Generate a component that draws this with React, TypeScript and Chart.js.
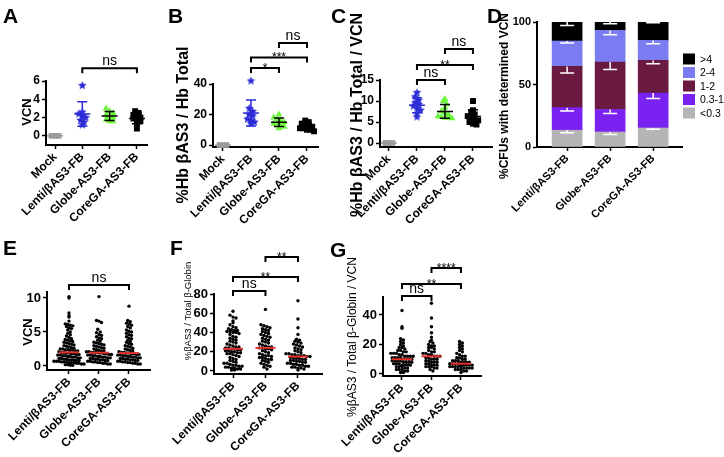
import React, { useEffect, useRef } from 'react';
import { Chart, registerables } from 'chart.js';
Chart.register(...registerables);

const W = 724;
const H = 457;
const FONT = '"Liberation Sans", Arial, Helvetica, sans-serif';

// ---------- categories ----------
const CATS4 = ['Mock', 'Lenti/βAS3-FB', 'Globe-AS3-FB', 'CoreGA-AS3-FB'];
const CATS3 = ['Lenti/βAS3-FB', 'Globe-AS3-FB', 'CoreGA-AS3-FB'];

// ---------- panel A : VCN ----------
const A_MOCK = [0, 0, 0];
const A_LENTI = [5.5, 2.6, 2.4, 2.2, 2.0, 1.7, 1.5, 1.2];
const A_GLOBE = [3.0, 2.7, 2.5, 2.3, 2.1, 2.0, 1.8, 1.6, 1.6];
const A_CORE = [2.7, 2.5, 2.3, 2.1, 2.0, 1.9, 1.8, 1.6, 1.3, 0.8];
const A_TICKS = [0, 2, 4, 6];

// ---------- panel B : %Hb bAS3 / Hb total ----------
const B_MOCK = [0, 0, 0];
const B_LENTI = [42, 24, 22, 20, 19, 17, 16, 15, 14];
const B_GLOBE = [20, 18, 17, 16, 15, 14, 14, 13, 12, 11];
const B_CORE = [16, 15, 14, 13, 12, 12, 11, 11, 10, 10, 9];
const B_TICKS = [0, 10, 20, 30, 40];

// ---------- panel C : %Hb bAS3 / Hb total / VCN ----------
const C_MOCK = [0, 0, 0];
const C_LENTI = [12, 11, 10.2, 9.6, 9.2, 8.8, 8.3, 7.8, 7, 6.2];
const C_GLOBE = [10.5, 10, 9.2, 8.4, 7.6, 7.2, 6.8, 6.4, 6.2, 6.0, 6.0, 5.9];
const C_CORE = [10, 7.8, 7.2, 6.8, 6.4, 6.0, 5.6, 5.4, 5.0, 4.6, 4.4];
const C_TICKS = [0, 5, 10, 15];

// ---------- panel D : % CFUs by VCN class (Lenti, Globe, CoreGA) ----------
const D_LT03 = [13.4, 12, 15.2];
const D_03_1 = [18.1, 18, 28];
const D_1_2 = [33, 38, 26.1];
const D_2_4 = [20.3, 25.3, 16];
const D_GT4 = [15.2, 6.7, 14.7];
const D_ERR_LT03 = [1.9, 2, 1];
const D_ERR_03_1 = [2.7, 3.2, 4.3];
const D_ERR_1_2 = [5.3, 5.9, 2.7];
const D_ERR_2_4 = [1.6, 3.5, 2.7];
const D_ERR_GT4 = [2.7, 1.3, 0.5];
const D_TICKS = [0, 50, 100];

// ---------- panel E : VCN per colony ----------
const E_LENTI = [10.2, 10.0, 7.8, 7.4, 7.2, 6.6, 6.2, 6.1, 6.0, 5.9, 5.8, 5.6, 5.5, 5.3, 5.0, 4.8, 4.6, 4.4, 4.2, 4.0, 3.9, 3.8, 3.7, 3.6, 3.5, 3.4, 3.3, 3.2, 3.1, 3.0, 2.9, 2.8, 2.7, 2.6, 2.5, 2.5, 2.4, 2.4, 2.3, 2.3, 2.2, 2.2, 2.1, 2.0, 2.0, 1.9, 1.9, 1.8, 1.8, 1.7, 1.7, 1.6, 1.6, 1.5, 1.5, 1.4, 1.4, 1.3, 1.3, 1.2, 1.2, 1.1, 1.1, 1.0, 1.0, 0.9, 0.9, 0.8, 0.8, 0.8, 0.7, 0.7, 0.7, 0.6, 0.6, 0.6, 0.5, 0.5, 0.5, 0.4, 0.4, 0.3, 0.3, 0.2, 0.2, 0.1, 0.1];
const E_GLOBE = [10.2, 6.7, 6.6, 6.4, 5.4, 5.0, 4.9, 4.6, 4.5, 4.3, 4.1, 4.0, 3.8, 3.7, 3.5, 3.4, 3.3, 3.2, 3.1, 3.0, 2.9, 2.8, 2.7, 2.6, 2.5, 2.4, 2.3, 2.2, 2.2, 2.1, 2.1, 2.0, 2.0, 2.0, 1.9, 1.9, 1.8, 1.8, 1.7, 1.7, 1.6, 1.6, 1.5, 1.5, 1.4, 1.4, 1.3, 1.3, 1.2, 1.2, 1.1, 1.1, 1.0, 1.0, 0.9, 0.9, 0.8, 0.8, 0.7, 0.7, 0.6, 0.6, 0.5, 0.5, 0.4, 0.4, 0.3, 0.3];
const E_CORE = [8.8, 6.7, 6.5, 6.3, 6.2, 6.0, 5.8, 5.6, 5.3, 5.1, 5.0, 4.8, 4.6, 4.5, 4.3, 4.1, 4.0, 3.8, 3.6, 3.5, 3.3, 3.2, 3.0, 2.9, 2.8, 2.6, 2.5, 2.4, 2.3, 2.2, 2.1, 2.0, 2.0, 1.9, 1.9, 1.8, 1.8, 1.7, 1.7, 1.6, 1.6, 1.5, 1.5, 1.4, 1.4, 1.3, 1.3, 1.2, 1.2, 1.1, 1.1, 1.0, 1.0, 0.9, 0.9, 0.8, 0.8, 0.7, 0.7, 0.6, 0.6, 0.5, 0.5, 0.4, 0.4, 0.3, 0.3];
const E_TICKS = [0, 5, 10];

// ---------- panel F : %bAS3 / total b-globin ----------
const F_LENTI = [62, 58, 56, 55, 52, 50, 48, 46, 45, 44, 43, 42, 42, 41, 41, 40, 40, 39, 38, 36, 35, 34, 33, 32, 31, 30, 29, 28, 27, 26, 25, 25, 24, 24, 23, 23, 22, 22, 21, 21, 20, 20, 19, 19, 18, 18, 17, 16, 15, 14, 13, 12, 11, 10, 9, 8, 8, 7, 6, 6, 5, 5, 4, 4, 3, 3, 2, 2, 1, 1];
const F_GLOBE = [64, 48, 47, 46, 45, 44, 43, 42, 41, 40, 39, 38, 37, 36, 35, 34, 33, 32, 31, 30, 29, 28, 27, 26, 25, 25, 24, 24, 23, 23, 22, 21, 20, 19, 18, 17, 16, 16, 15, 14, 14, 13, 12, 12, 11, 10, 9, 8, 7, 6, 5, 4, 2];
const F_CORE = [73, 54, 45, 38, 33, 32, 31, 30, 29, 28, 27, 26, 25, 24, 23, 22, 21, 20, 19, 18, 18, 17, 17, 16, 16, 16, 15, 15, 14, 14, 13, 13, 12, 12, 11, 11, 10, 10, 9, 9, 8, 8, 7, 7, 6, 6, 5, 5, 4, 4, 3, 3, 2, 1];
const F_TICKS = [0, 20, 40, 60, 80];

// ---------- panel G : %bAS3 / total b-globin / VCN ----------
const G_LENTI = [43, 32, 31, 24, 23, 22, 21, 20, 19, 18, 18, 17, 16, 16, 15, 15, 14, 14, 14, 13, 13, 12, 12, 12, 12, 11, 11, 11, 11, 10, 10, 10, 10, 9, 9, 9, 9, 8, 8, 8, 8, 7, 7, 7, 6, 6, 6, 6, 5, 5, 5, 4, 4, 3, 3, 3, 2, 2, 1, 1];
const G_GLOBE = [48, 38, 32, 28, 25, 23, 22, 21, 20, 19, 19, 18, 18, 17, 16, 15, 15, 14, 14, 13, 13, 12, 12, 12, 11, 11, 10, 10, 10, 9, 9, 8, 8, 8, 7, 7, 6, 6, 6, 5, 5, 5, 4, 4, 3, 2];
const G_CORE = [22, 21, 20, 19, 18, 17, 16, 15, 14, 13, 12, 12, 11, 11, 10, 10, 9, 9, 9, 8, 8, 8, 8, 7, 7, 7, 7, 6, 6, 6, 6, 6, 5, 5, 5, 5, 5, 4, 4, 4, 4, 3, 3, 3, 2, 2, 1];
const G_TICKS = [0, 20, 40];

// ---------- colours ----------
const BLUE = '#2b2bd8';
const GREEN = '#6cf53c';
const GRAY = '#9b9b9b';
const BLACK = '#000000';
const RED = '#e3312b';
const D_COLORS = { lt03: '#b5b5b5', r031: '#7a22f2', r12: '#6a1a40', r24: '#7c7cf2', gt4: '#000000' };

const YW = 40;

function swarmOffsets(vals: number[], pxPerY: number, pxPerX: number, rowPx: number, dxPx: number) {
  const rows = new Map<number, number[]>();
  vals.forEach((v, i) => {
    const r = Math.round((v * pxPerY) / rowPx);
    if (!rows.has(r)) rows.set(r, []);
    rows.get(r)!.push(i);
  });
  const off = new Array(vals.length).fill(0);
  rows.forEach((idx) => {
    const n = idx.length;
    idx.forEach((id, k) => {
      off[id] = ((k - (n - 1) / 2) * dxPx) / pxPerX;
    });
  });
  return off;
}

function starImg(color: string, r: number) {
  const c = document.createElement('canvas');
  const s = Math.ceil(r * 2 + 2);
  c.width = s;
  c.height = s;
  const g = c.getContext('2d')!;
  g.fillStyle = color;
  g.beginPath();
  for (let k = 0; k < 10; k++) {
    const ang = -Math.PI / 2 + (k * Math.PI) / 5;
    const rr = k % 2 === 0 ? r : r * 0.45;
    g.lineTo(s / 2 + rr * Math.cos(ang), s / 2 + rr * Math.sin(ang));
  }
  g.closePath();
  g.fill();
  return c;
}

function makeDeco(spec: any) {
  return {
    id: 'deco',
    afterDatasetsDraw(chart: any) {
      const ctx = chart.ctx as CanvasRenderingContext2D;
      const xs = chart.scales.x;
      const ys = chart.scales.y;
      ctx.save();
      if (spec.stats === 'meanSD') {
        spec.groups.forEach((g: any, i: number) => {
          const n = g.vals.length;
          const m = g.vals.reduce((a: number, b: number) => a + b, 0) / n;
          const sd = n > 1 ? Math.sqrt(g.vals.reduce((a: number, b: number) => a + (b - m) ** 2, 0) / (n - 1)) : 0;
          const cx = xs.getPixelForValue(i);
          const ym = ys.getPixelForValue(m);
          const yt = ys.getPixelForValue(m + sd);
          const yb = ys.getPixelForValue(m - sd);
          ctx.strokeStyle = g.statColor;
          ctx.lineWidth = 1.5;
          ctx.beginPath();
          ctx.moveTo(cx - 8, ym);
          ctx.lineTo(cx + 8, ym);
          if (sd > 0) {
            ctx.moveTo(cx, yt);
            ctx.lineTo(cx, yb);
            ctx.moveTo(cx - 5, yt);
            ctx.lineTo(cx + 5, yt);
            ctx.moveTo(cx - 5, yb);
            ctx.lineTo(cx + 5, yb);
          }
          ctx.stroke();
        });
      }
      if (spec.stats === 'median') {
        spec.groups.forEach((g: any, i: number) => {
          const s = [...g.vals].sort((a: number, b: number) => a - b);
          const n = s.length;
          const med = n % 2 ? s[(n - 1) / 2] : (s[n / 2 - 1] + s[n / 2]) / 2;
          const cx = xs.getPixelForValue(i);
          const y = ys.getPixelForValue(med);
          ctx.strokeStyle = RED;
          ctx.lineWidth = 2;
          ctx.beginPath();
          ctx.moveTo(cx - 10, y);
          ctx.lineTo(cx + 10, y);
          ctx.stroke();
        });
      }
      if (spec.kind === 'bar') {
        ctx.strokeStyle = '#ffffff';
        ctx.lineWidth = 1.5;
        const n = spec.series[0].vals.length;
        for (let j = 0; j < n; j++) {
          let cum = 0;
          spec.series.forEach((s: any) => {
            cum += s.vals[j];
            const cx = xs.getPixelForValue(j);
            const yTop = ys.getPixelForValue(cum);
            const yLow = ys.getPixelForValue(cum - s.err[j]);
            ctx.beginPath();
            ctx.moveTo(cx, yTop);
            ctx.lineTo(cx, yLow);
            ctx.moveTo(cx - 7, yLow);
            ctx.lineTo(cx + 7, yLow);
            ctx.stroke();
          });
        }
        const lg = spec.legend;
        ctx.font = `10.5px ${FONT}`;
        ctx.textAlign = 'left';
        ctx.textBaseline = 'middle';
        [...spec.series].reverse().forEach((s: any, k: number) => {
          const cy = lg.y + k * lg.step;
          ctx.fillStyle = s.color;
          ctx.fillRect(lg.x, cy - 5.5, 12, 11);
          ctx.fillStyle = '#000';
          ctx.fillText(s.name, lg.x + 17, cy + 1);
        });
      }
      ctx.strokeStyle = '#000';
      ctx.fillStyle = '#000';
      ctx.lineWidth = 2;
      spec.brackets.forEach((br: any) => {
        const x1 = xs.getPixelForValue(br.a);
        const x2 = xs.getPixelForValue(br.b);
        const y = ys.getPixelForValue(br.y);
        ctx.beginPath();
        ctx.moveTo(x1, y + 5);
        ctx.lineTo(x1, y);
        ctx.lineTo(x2, y);
        ctx.lineTo(x2, y + 5);
        ctx.stroke();
        const star = br.t.startsWith('*');
        ctx.font = star ? `12px ${FONT}` : `14px ${FONT}`;
        ctx.textAlign = 'center';
        ctx.textBaseline = 'alphabetic';
        ctx.fillText(br.t, (x1 + x2) / 2, star ? y + 4 : y - 3);
      });
      ctx.font = `bold 21px ${FONT}`;
      ctx.textAlign = 'left';
      ctx.textBaseline = 'alphabetic';
      ctx.fillText(spec.letter.t, spec.letter.x, spec.letter.y);
      const tt = spec.title;
      ctx.save();
      ctx.translate(tt.x, tt.y);
      ctx.rotate(-Math.PI / 2);
      ctx.font = `${tt.bold ? 'bold ' : ''}${tt.size}px ${FONT}`;
      ctx.textAlign = 'center';
      ctx.textBaseline = 'middle';
      ctx.fillText(tt.t, 0, 0);
      ctx.restore();
      ctx.restore();
    },
  };
}

function buildConfig(spec: any): any {
  const { area, xr, yr } = spec;
  const XH = Math.min(90, H - area.b - 1);
  const grid = { drawOnChartArea: false, drawTicks: true, tickLength: 4, tickColor: '#000', tickWidth: 1.5 };
  const border = { display: true, color: '#000', width: 2 };
  const scales: any = {
    x: {
      type: 'linear',
      min: xr[0],
      max: xr[1],
      offset: false,
      bounds: 'data',
      stacked: spec.kind === 'bar',
      afterBuildTicks: (s: any) => {
        s.ticks = spec.xLabels.map((_: string, i: number) => ({ value: i }));
      },
      afterFit: (s: any) => {
        s.height = XH;
        s.paddingLeft = 0;
        s.paddingRight = 0;
      },
      ticks: {
        autoSkip: false,
        minRotation: 45,
        maxRotation: 45,
        padding: 1,
        color: '#000',
        font: { family: FONT, size: spec.xFont, weight: 'bold' },
        callback: (v: number) => spec.xLabels[Math.round(v)] ?? '',
      },
      grid: { ...grid, offset: false },
      border,
    },
    y: {
      type: 'linear',
      min: yr[0],
      max: yr[1],
      bounds: 'data',
      stacked: spec.kind === 'bar',
      afterBuildTicks: (s: any) => {
        s.ticks = spec.yTicks.map((v: number) => ({ value: v }));
      },
      afterFit: (s: any) => {
        s.width = YW;
        s.paddingTop = 0;
        s.paddingBottom = 0;
      },
      ticks: {
        padding: 2,
        color: '#000',
        font: { family: FONT, size: spec.tickFont, weight: 'bold' },
        callback: (v: number) => String(v),
      },
      grid,
      border,
    },
  };

  const pxPerY = (area.b - area.t) / (yr[1] - yr[0]);
  const pxPerX = (area.r - area.l) / (xr[1] - xr[0]);

  let data: any;
  if (spec.kind === 'bar') {
    data = {
      datasets: spec.series.map((s: any) => ({
        label: s.name,
        data: s.vals.map((v: number, j: number) => ({ x: j, y: v })),
        backgroundColor: s.color,
        borderWidth: 0,
        barThickness: 30,
      })),
    };
  } else {
    data = {
      datasets: spec.groups.map((g: any, i: number) => {
        const off = swarmOffsets(g.vals, pxPerY, pxPerX, spec.swarm.row, spec.swarm.dx);
        return {
          label: spec.xLabels[i],
          data: g.vals.map((v: number, k: number) => ({ x: i + off[k], y: v })),
          pointStyle: g.style,
          pointRadius: g.radius,
          backgroundColor: g.color,
          borderColor: g.color,
          borderWidth: 0,
          showLine: false,
          clip: false,
        };
      }),
    };
  }

  return {
    type: spec.kind === 'bar' ? 'bar' : 'scatter',
    data,
    options: {
      responsive: false,
      maintainAspectRatio: false,
      animation: false,
      devicePixelRatio: 1,
      events: [],
      layout: {
        padding: { left: area.l - YW, top: area.t, right: W - area.r, bottom: H - area.b - XH },
      },
      plugins: { legend: { display: false }, tooltip: { enabled: false } },
      scales,
    },
    plugins: [makeDeco(spec)],
  };
}

function makeSpecs() {
  const star = starImg(BLUE, 4.5);
  const abcGroups = (mock: number[], lenti: number[], globe: number[], core: number[]) => [
    { vals: mock, style: 'rect', radius: 4, color: GRAY, statColor: GRAY },
    { vals: lenti, style: star, radius: 4.5, color: BLUE, statColor: BLUE },
    { vals: globe, style: 'triangle', radius: 4, color: GREEN, statColor: BLACK },
    { vals: core, style: 'rect', radius: 4.2, color: BLACK, statColor: BLACK },
  ];
  const dot = (vals: number[]) => ({ vals, style: 'circle', radius: 1.7, color: BLACK });
  return [
    {
      kind: 'scatter',
      area: { l: 46, t: 81, r: 147, b: 145 },
      xr: [-0.33, 3.37],
      yr: [-1, 6],
      yTicks: A_TICKS,
      xLabels: CATS4,
      tickFont: 12,
      xFont: 12,
      groups: abcGroups(A_MOCK, A_LENTI, A_GLOBE, A_CORE),
      stats: 'meanSD',
      swarm: { row: 5, dx: 3.5 },
      brackets: [{ a: 1, b: 3, y: 7.4, t: 'ns' }],
      letter: { t: 'A', x: 3, y: 23 },
      title: { t: 'VCN', x: 27, y: 112, size: 13, bold: true },
    },
    {
      kind: 'scatter',
      area: { l: 213, t: 84, r: 318, b: 147 },
      xr: [-0.357, 3.393],
      yr: [-1.3, 40],
      yTicks: B_TICKS,
      xLabels: CATS4,
      tickFont: 12,
      xFont: 12,
      groups: abcGroups(B_MOCK, B_LENTI, B_GLOBE, B_CORE),
      stats: 'meanSD',
      swarm: { row: 5, dx: 3.5 },
      brackets: [
        { a: 1, b: 2, y: 50.5, t: '*' },
        { a: 1, b: 3, y: 57.4, t: '***' },
        { a: 2, b: 3, y: 66.9, t: 'ns' },
      ],
      letter: { t: 'B', x: 168, y: 23 },
      title: { t: '%Hb βAS3 / Hb Total', x: 184, y: 125, size: 16, bold: true },
    },
    {
      kind: 'scatter',
      area: { l: 380, t: 80, r: 492, b: 147 },
      xr: [-0.32, 3.68],
      yr: [-0.95, 15],
      yTicks: C_TICKS,
      xLabels: CATS4,
      tickFont: 12,
      xFont: 12,
      groups: abcGroups(C_MOCK, C_LENTI, C_GLOBE, C_CORE),
      stats: 'meanSD',
      swarm: { row: 5, dx: 3.5 },
      brackets: [
        { a: 1, b: 2, y: 15.0, t: 'ns' },
        { a: 1, b: 3, y: 18.6, t: '**' },
        { a: 2, b: 3, y: 22.4, t: 'ns' },
      ],
      letter: { t: 'C', x: 331, y: 23 },
      title: { t: '%Hb βAS3 / Hb Total / VCN', x: 358, y: 115, size: 16, bold: true },
    },
    {
      kind: 'bar',
      area: { l: 537, t: 22, r: 682, b: 147 },
      xr: [-0.7, 2.67],
      yr: [0, 100],
      yTicks: D_TICKS,
      xLabels: CATS3,
      tickFont: 11,
      xFont: 11,
      series: [
        { name: '<0.3', vals: D_LT03, err: D_ERR_LT03, color: D_COLORS.lt03 },
        { name: '0.3-1', vals: D_03_1, err: D_ERR_03_1, color: D_COLORS.r031 },
        { name: '1-2', vals: D_1_2, err: D_ERR_1_2, color: D_COLORS.r12 },
        { name: '2-4', vals: D_2_4, err: D_ERR_2_4, color: D_COLORS.r24 },
        { name: '>4', vals: D_GT4, err: D_ERR_GT4, color: D_COLORS.gt4 },
      ],
      legend: { x: 683, y: 59, step: 13.5 },
      brackets: [],
      letter: { t: 'D', x: 487, y: 23 },
      title: { t: '%CFUs with determined VCN', x: 505, y: 96, size: 12, bold: true },
    },
    {
      kind: 'scatter',
      area: { l: 47, t: 292, r: 150, b: 370 },
      xr: [-0.733, 2.7],
      yr: [-0.59, 10.88],
      yTicks: E_TICKS,
      xLabels: CATS3,
      tickFont: 13,
      xFont: 12,
      groups: [dot(E_LENTI), dot(E_GLOBE), dot(E_CORE)],
      stats: 'median',
      swarm: { row: 3.2, dx: 2.5 },
      brackets: [{ a: 0, b: 2, y: 11.9, t: 'ns' }],
      letter: { t: 'E', x: 3, y: 255 },
      title: { t: 'VCN', x: 28, y: 332, size: 13, bold: true },
    },
    {
      kind: 'scatter',
      area: { l: 214, t: 294, r: 322, b: 374 },
      xr: [-0.585, 2.74],
      yr: [-3.12, 80],
      yTicks: F_TICKS,
      xLabels: CATS3,
      tickFont: 13,
      xFont: 12,
      groups: [dot(F_LENTI), dot(F_GLOBE), dot(F_CORE)],
      stats: 'median',
      swarm: { row: 3.2, dx: 3 },
      brackets: [
        { a: 0, b: 1, y: 83, t: 'ns' },
        { a: 0, b: 2, y: 97.7, t: '**' },
        { a: 1, b: 2, y: 118.4, t: '**' },
      ],
      letter: { t: 'F', x: 170, y: 255 },
      title: { t: '%βAS3 / Total β-Globin', x: 188, y: 311, size: 9.5, bold: false },
    },
    {
      kind: 'scatter',
      area: { l: 383, t: 297, r: 481, b: 376 },
      xr: [-0.644, 2.68],
      yr: [-1.36, 52.2],
      yTicks: G_TICKS,
      xLabels: CATS3,
      tickFont: 13,
      xFont: 12,
      groups: [dot(G_LENTI), dot(G_GLOBE), dot(G_CORE)],
      stats: 'median',
      swarm: { row: 3.2, dx: 2.8 },
      brackets: [
        { a: 0, b: 1, y: 52.9, t: 'ns' },
        { a: 0, b: 2, y: 61, t: '**' },
        { a: 1, b: 2, y: 71.9, t: '****' },
      ],
      letter: { t: 'G', x: 330, y: 257 },
      title: { t: '%βAS3 / Total β-Globin / VCN', x: 353, y: 337, size: 12, bold: false },
    },
  ];
}

export default function App() {
  const refs = useRef<(HTMLCanvasElement | null)[]>([]);
  useEffect(() => {
    const specs = makeSpecs();
    const charts = specs.map((spec, i) => new Chart(refs.current[i] as HTMLCanvasElement, buildConfig(spec)));
    return () => charts.forEach((c) => c.destroy());
  }, []);
  return (
    <div style={{ position: 'absolute', left: 0, top: 0, width: W, height: H, background: '#fff', overflow: 'hidden' }}>
      {Array.from({ length: 7 }).map((_, i) => (
        <canvas
          key={i}
          ref={(el) => {
            refs.current[i] = el;
          }}
          width={W}
          height={H}
          style={{ position: 'absolute', left: 0, top: 0, width: W, height: H }}
        />
      ))}
    </div>
  );
}
